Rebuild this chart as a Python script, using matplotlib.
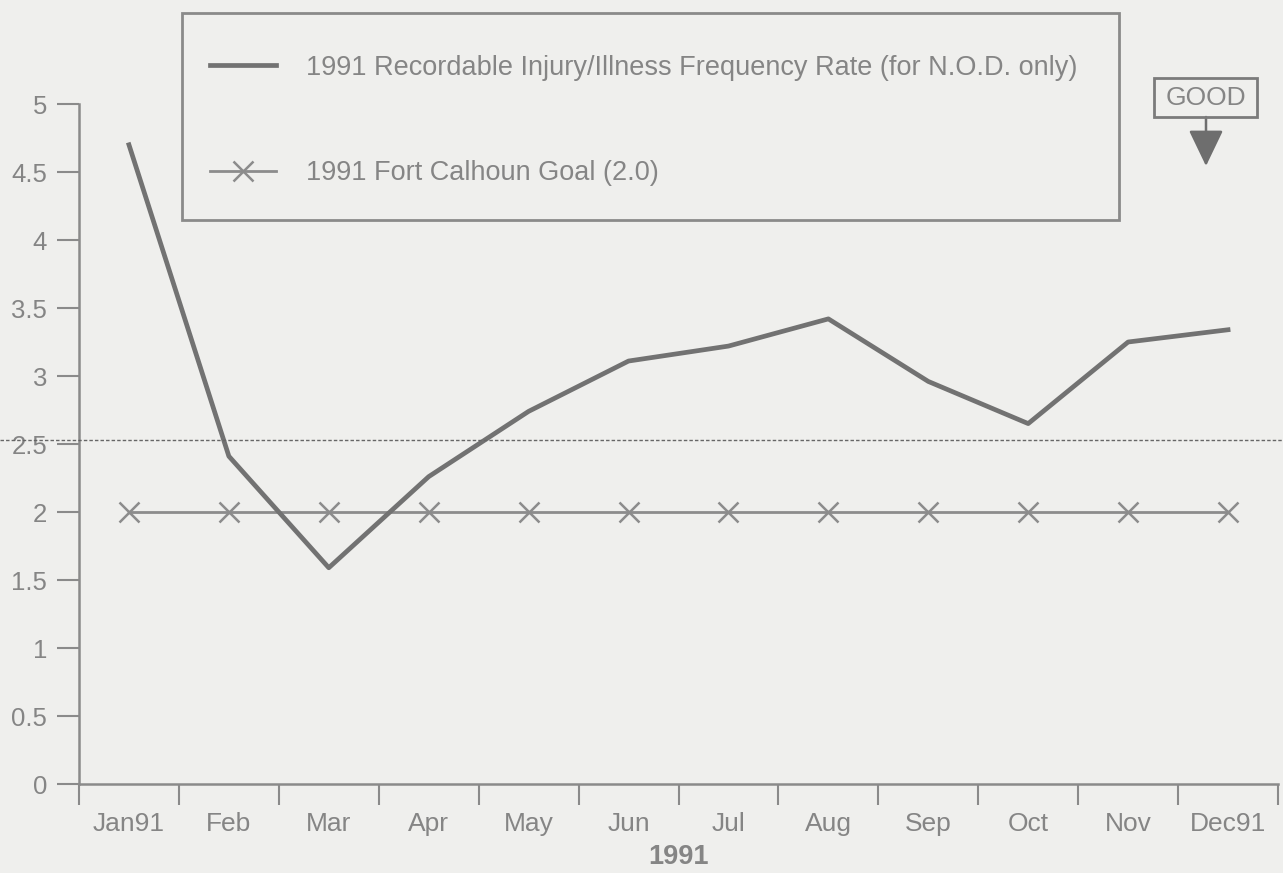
import numpy as np
import matplotlib
matplotlib.use("Agg")
import matplotlib.pyplot as plt
from matplotlib.patches import Rectangle

# Monthly values, 1991
months = ["Jan91", "Feb", "Mar", "Apr", "May", "Jun",
          "Jul", "Aug", "Sep", "Oct", "Nov", "Dec91"]
rate = [4.70, 2.41, 1.59, 2.26, 2.74, 3.11, 3.22, 3.42, 2.96, 2.65, 3.25, 3.34]
goal = [2.0] * 12
fold_level = 2.53
y_ticks = [0, 0.5, 1, 1.5, 2, 2.5, 3, 3.5, 4, 4.5, 5]
y_labels = ["0", "0.5", "1", "1.5", "2", "2.5", "3", "3.5", "4", "4.5", "5"]

rate_label = "1991 Recordable Injury/Illness Frequency Rate (for N.O.D. only)"
goal_label = "1991 Fort Calhoun Goal (2.0)"

BG = "#efefed"
LINE = "#8a8a8a"
TXT = "#858585"

plt.rcParams["font.family"] = ["Liberation Sans", "DejaVu Sans"]

W, H = 1283, 873
fig = plt.figure(figsize=(W / 100, H / 100), dpi=100, facecolor=BG)
ax = fig.add_axes([79 / W, 1 - 784 / H, 1199 / W, 680 / H])
ax.set_facecolor(BG)

x = np.arange(len(months))
ax.plot(x, rate, color="#727272", lw=3.4, label=rate_label, zorder=3)
ax.plot(x, goal, color="#8c8c8c", lw=2.0, marker="x", markersize=14,
        markeredgewidth=1.8, label=goal_label, zorder=2)

ax.set_xlim(-0.5, 11.5)
ax.set_ylim(0, 5)

for side in ("top", "right"):
    ax.spines[side].set_visible(False)
for side in ("left", "bottom"):
    ax.spines[side].set_color(LINE)
    ax.spines[side].set_linewidth(1.8)

# month names centred, ticks on the month boundaries
ax.set_xticks(x)
ax.set_xticklabels(months)
ax.set_xticks(np.arange(-0.5, 12.0, 1.0), minor=True)
ax.tick_params(axis="x", which="major", length=0, pad=20, labelsize=19,
               labelcolor=TXT)
ax.tick_params(axis="x", which="minor", length=15, width=1.5, color=LINE,
               direction="out")
ax.set_yticks(y_ticks)
ax.set_yticklabels(y_labels)
ax.tick_params(axis="y", length=16, width=1.5, color=LINE, pad=7,
               labelsize=18.5, labelcolor=TXT)
ax.set_xlabel("1991", fontsize=19.5, fontweight="bold", color=TXT, labelpad=6)

# dotted fold line across the whole sheet
ax.axhline(fold_level, xmin=-79 / 1199, xmax=1204 / 1199, clip_on=False,
           color="#666666", lw=1.0, ls=(0, (2.5, 1.5)), zorder=4)

# legend inside a drawn box
fig.patches.append(Rectangle((182 / W, 1 - 220 / H), 937 / W, 207 / H,
                             transform=fig.transFigure, fill=False,
                             edgecolor=LINE, lw=2))
leg = ax.legend(loc="upper left", bbox_to_anchor=(196 / W, 1 - 41 / H),
                bbox_transform=fig.transFigure, frameon=False, fontsize=19.5,
                handlelength=2.45, handletextpad=1.1, labelspacing=2.95,
                borderpad=0)
for t in leg.get_texts():
    t.set_color(TXT)

# GOOD indicator
fig.patches.append(Rectangle((1154 / W, 1 - 117 / H), 103 / W, 39 / H,
                             transform=fig.transFigure, fill=False,
                             edgecolor="#7b7b7b", lw=2))
fig.text(1205.5 / W, 1 - 98 / H, "GOOD", ha="center", va="center",
         fontsize=19, color=TXT)
ax.annotate("", xy=(1206 / W, 1 - 166 / H), xytext=(1206 / W, 1 - 117 / H),
            xycoords="figure fraction", textcoords="figure fraction",
            arrowprops=dict(arrowstyle="-|>,head_length=1.25,head_width=0.6",
                            color="#6e6e6e", lw=1.8, mutation_scale=18,
                            shrinkA=0, shrinkB=0))

fig.savefig("out.png", dpi=100, facecolor=BG)
